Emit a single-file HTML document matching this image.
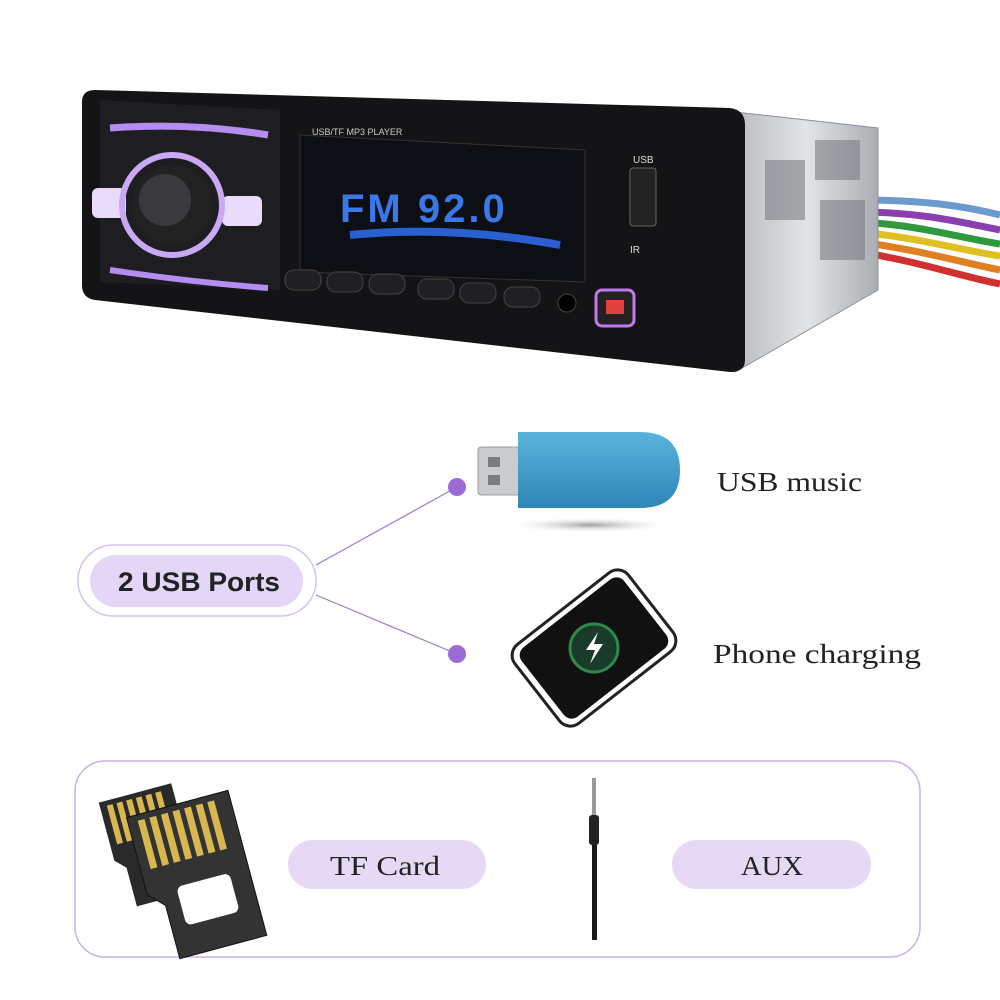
<!DOCTYPE html>
<html><head><meta charset="utf-8"><style>
html,body{margin:0;padding:0;background:#fff;}
body{width:1000px;height:1000px;overflow:hidden;position:relative;}
svg{position:absolute;left:0;top:0;}
.serif{font-family:"Liberation Serif","DejaVu Serif",serif;}
.sans{font-family:"Liberation Sans","DejaVu Sans",sans-serif;}
</style></head><body>
<svg width="1000" height="1000" viewBox="0 0 1000 1000">
<defs>
<linearGradient id="metal" x1="0" y1="0" x2="1" y2="0">
<stop offset="0" stop-color="#b9bcc0"/><stop offset="0.5" stop-color="#e2e4e6"/><stop offset="1" stop-color="#a9adb2"/></linearGradient>
<linearGradient id="usb" x1="0" y1="0" x2="0" y2="1">
<stop offset="0" stop-color="#5bb3dc"/><stop offset="1" stop-color="#2f86b8"/></linearGradient>
<radialGradient id="sh" cx="0.5" cy="0.5" r="0.5"><stop offset="0" stop-color="#888" stop-opacity="0.8"/><stop offset="1" stop-color="#fff" stop-opacity="0"/></radialGradient>
</defs>
<g stroke-width="7" fill="none">
<path d="M860 200 C920 200 960 205 1000 215" stroke="#6a9ad0"/>
<path d="M860 212 C920 212 960 222 1000 230" stroke="#8a3fae"/>
<path d="M860 222 C920 225 960 238 1000 244" stroke="#2e9a3c"/>
<path d="M860 232 C920 238 960 250 1000 256" stroke="#e0c020"/>
<path d="M860 242 C920 250 960 262 1000 270" stroke="#e08020"/>
<path d="M860 252 C920 262 960 276 1000 284" stroke="#d03030"/>
</g>
<polygon points="735,112 878,128 878,290 735,372" fill="url(#metal)" stroke="#8d9196"/>
<g fill="#7a7e83" opacity="0.6">
<rect x="765" y="160" width="40" height="60"/><rect x="815" y="140" width="45" height="40"/><rect x="820" y="200" width="45" height="60"/>
</g>
<path d="M95 90 L730 108 Q745 110 745 125 L745 360 Q745 372 730 372 L95 300 Q82 298 82 285 L82 102 Q82 90 95 90Z" fill="#141416"/>
<path d="M100 100 L280 110 L280 290 L100 282Z" fill="#1e1e22"/>
<path d="M110 128 Q190 122 268 135" stroke="#b58cf0" stroke-width="7" fill="none"/>
<path d="M110 270 Q190 282 268 288" stroke="#b58cf0" stroke-width="6" fill="none"/>
<rect x="92" y="188" width="34" height="30" rx="6" fill="#e9dcfa"/>
<rect x="222" y="196" width="40" height="30" rx="6" fill="#e9dcfa"/>
<circle cx="172" cy="205" r="50" fill="none" stroke="#c9a8f5" stroke-width="6"/>
<circle cx="172" cy="205" r="40" fill="#222"/>
<circle cx="165" cy="200" r="26" fill="#3a3a3e"/>
<path d="M300 135 L585 150 L585 282 L300 272Z" fill="#0d0f14" stroke="#333"/>
<text x="312" y="135" class="sans" font-size="9" fill="#ccc">USB/TF MP3 PLAYER</text>
<text x="340" y="222" class="sans" font-size="40" fill="#3a78e8" font-weight="bold" letter-spacing="3">FM 92.0</text>
<path d="M350 235 Q450 225 560 245" stroke="#2a5fd0" stroke-width="8" fill="none"/>
<g fill="#1f1f24" stroke="#444">
<rect x="285" y="270" width="36" height="20" rx="9"/><rect x="327" y="272" width="36" height="20" rx="9"/><rect x="369" y="274" width="36" height="20" rx="9"/>
<rect x="418" y="279" width="36" height="20" rx="9"/><rect x="460" y="283" width="36" height="20" rx="9"/><rect x="504" y="287" width="36" height="20" rx="9"/>
</g>
<circle cx="567" cy="303" r="9" fill="#000" stroke="#444"/>
<rect x="596" y="290" width="38" height="36" rx="6" fill="#222" stroke="#c279ee" stroke-width="3"/>
<rect x="606" y="300" width="18" height="14" fill="#e04040"/>
<rect x="630" y="168" width="26" height="58" rx="3" fill="#222" stroke="#666"/>
<text x="633" y="163" class="sans" font-size="10" fill="#ddd">USB</text>
<text x="630" y="253" class="sans" font-size="10" fill="#ddd">IR</text>
<ellipse cx="590" cy="525" rx="85" ry="8" fill="url(#sh)"/>
<rect x="478" y="447" width="45" height="48" rx="3" fill="#c9cbce" stroke="#9a9da1"/>
<rect x="488" y="457" width="12" height="10" fill="#7a7d80"/><rect x="488" y="475" width="12" height="10" fill="#7a7d80"/>
<path d="M518 432 L640 432 Q680 432 680 470 Q680 508 640 508 L518 508Z" fill="url(#usb)"/>
<text x="717" y="491" class="serif" font-size="27" fill="#222" textLength="145" lengthAdjust="spacingAndGlyphs">USB music</text>
<rect x="78" y="545" width="238" height="71" rx="35.5" fill="#fff" stroke="#d4c2ee" stroke-width="1.5"/>
<rect x="90" y="555" width="213" height="52" rx="26" fill="#e3d6f6"/>
<text x="199" y="591" class="sans" font-size="27" font-weight="bold" fill="#222" text-anchor="middle" textLength="162" lengthAdjust="spacingAndGlyphs">2 USB Ports</text>
<line x1="316" y1="565" x2="457" y2="487" stroke="#9b7bd0" stroke-width="1.2"/>
<line x1="316" y1="595" x2="457" y2="654" stroke="#9b7bd0" stroke-width="1.2"/>
<circle cx="457" cy="487" r="9" fill="#9b6cd6"/>
<circle cx="457" cy="654" r="9" fill="#9b6cd6"/>
<g transform="rotate(-38 594 648)">
<rect x="522" y="598" width="144" height="100" rx="14" fill="#fff" stroke="#222" stroke-width="3"/>
<rect x="529" y="604" width="130" height="88" rx="10" fill="#111"/>
</g>
<circle cx="594" cy="648" r="24" fill="#1a3a2a" stroke="#2e8a4a" stroke-width="3"/>
<path d="M598 632 L586 650 L595 650 L590 664 L603 644 L594 644Z" fill="#fff"/>
<text x="713" y="663" class="serif" font-size="27" fill="#222" textLength="208" lengthAdjust="spacingAndGlyphs">Phone charging</text>
<rect x="75" y="761" width="845" height="196" rx="30" fill="#fff" stroke="#c9b2ea" stroke-width="1.5"/>
<g transform="rotate(-15 150 820)">
<path d="M105 790 L180 790 L180 900 L115 900 L115 860 L105 850Z" fill="#2a2a2a"/>
<g fill="#d8b650"><rect x="112" y="795" width="6" height="40"/><rect x="122" y="795" width="6" height="40"/><rect x="132" y="795" width="6" height="40"/><rect x="142" y="795" width="6" height="40"/><rect x="152" y="795" width="6" height="40"/><rect x="162" y="795" width="6" height="40"/></g>
</g>
<g transform="rotate(-15 200 860)">
<path d="M140 800 L245 800 L245 950 L155 950 L155 895 L140 880Z" fill="#333" stroke="#111"/>
<g fill="#d8b650"><rect x="150" y="806" width="7" height="50"/><rect x="162" y="806" width="7" height="50"/><rect x="174" y="806" width="7" height="50"/><rect x="186" y="806" width="7" height="50"/><rect x="198" y="806" width="7" height="50"/><rect x="210" y="806" width="7" height="50"/><rect x="222" y="806" width="7" height="50"/></g>
<rect x="170" y="880" width="55" height="40" rx="6" fill="#fff"/>
</g>
<rect x="288" y="840" width="198" height="49" rx="24.5" fill="#e6d9f6"/>
<text x="385" y="875" class="serif" font-size="27" fill="#222" text-anchor="middle" textLength="110" lengthAdjust="spacingAndGlyphs">TF Card</text>
<rect x="592" y="778" width="4" height="40" fill="#999"/>
<rect x="589" y="815" width="10" height="30" rx="3" fill="#222"/>
<rect x="592" y="845" width="5" height="95" fill="#1a1a1a"/>
<rect x="672" y="840" width="199" height="49" rx="24.5" fill="#e6d9f6"/>
<text x="772" y="875" class="serif" font-size="27" fill="#222" text-anchor="middle" textLength="62" lengthAdjust="spacingAndGlyphs">AUX</text>
</svg>
</body></html>
